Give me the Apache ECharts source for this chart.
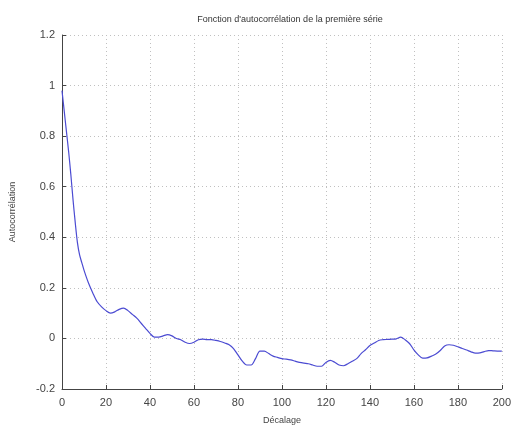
<!DOCTYPE html>
<html>
<head>
<meta charset="utf-8">
<script src="https://cdn.jsdelivr.net/npm/echarts@6/dist/echarts.min.js"></script>
<style>html,body{margin:0;padding:0;background:#fff;}#c{width:514px;height:430px;}</style>
</head>
<body>
<div id="c"></div>
<script>
const titleText = "Fonction d'autocorrélation de la première série";
const xName = "Décalage";
const yName = "Autocorrélation";
const lags = [0,1,2,3,4,5,6,7,8,9,10,12,14,16,18,20,22,24,26,28,30,32,34,36,38,40,42,44,46,48,50,52,54,56,58,60,62,64,66,68,70,72,74,76,78,80,82,84,86,88,90,92,94,96,98,100,102,104,106,108,110,112,114,116,118,120,122,124,126,128,130,132,134,136,138,140,142,144,146,148,150,152,154,156,158,160,162,164,166,168,170,172,174,176,178,180,182,184,186,188,190,192,194,196,198,200];
const acf = [0.98,0.90,0.82,0.74,0.65,0.55,0.46,0.38,0.33,0.30,0.27,0.22,0.18,0.145,0.125,0.11,0.10,0.105,0.115,0.12,0.11,0.095,0.08,0.06,0.04,0.02,0.005,0.005,0.01,0.015,0.01,0.0,-0.005,-0.015,-0.02,-0.015,-0.005,-0.003,-0.005,-0.005,-0.008,-0.012,-0.018,-0.025,-0.04,-0.065,-0.09,-0.105,-0.105,-0.08,-0.05,-0.05,-0.06,-0.07,-0.075,-0.08,-0.082,-0.085,-0.09,-0.095,-0.098,-0.1,-0.105,-0.11,-0.11,-0.095,-0.087,-0.094,-0.105,-0.108,-0.1,-0.09,-0.08,-0.06,-0.045,-0.028,-0.018,-0.008,-0.005,-0.004,-0.003,-0.002,0.005,-0.005,-0.02,-0.045,-0.065,-0.078,-0.077,-0.07,-0.062,-0.048,-0.03,-0.025,-0.027,-0.033,-0.04,-0.046,-0.053,-0.058,-0.057,-0.052,-0.048,-0.049,-0.05,-0.05];
const xMin = 0, xMax = 200, xStep = 20;
const yMin = -0.2, yMax = 1.2, yStep = 0.2;

const chart = echarts.init(document.getElementById('c'), null, {renderer: 'canvas'});
const font = 'Liberation Sans, Arial, sans-serif';
const axisCommon = {
  axisLine: {show: true, onZero: false, lineStyle: {color: '#444', width: 1}},
  axisTick: {show: true, inside: true, length: 4, lineStyle: {color: '#444'}},
  splitLine: {show: true, lineStyle: {color: '#c0c0c0', type: [1, 3], width: 1}},
  axisLabel: {color: '#444', fontSize: 11, fontFamily: font}
};
chart.setOption({
  animation: false,
  backgroundColor: '#fff',
  title: {text: titleText, left: 285, top: 10, textAlign: 'center',
    textStyle: {fontSize: 9, fontWeight: 'normal', color: '#333', fontFamily: font}},
  grid: {left: 62, right: 7, top: 35, bottom: 35},
  xAxis: Object.assign({}, axisCommon, {
    type: 'value', min: xMin, max: xMax, interval: xStep,
    name: xName, nameLocation: 'middle', nameGap: 27,
    nameTextStyle: {fontSize: 9, color: '#444', fontFamily: font},
    axisLabel: Object.assign({}, axisCommon.axisLabel, {margin: 8})
  }),
  yAxis: Object.assign({}, axisCommon, {
    type: 'value', min: yMin, max: yMax, interval: yStep,
    name: yName, nameLocation: 'middle', nameGap: 45, nameRotate: 90,
    nameTextStyle: {fontSize: 9, color: '#444', fontFamily: font},
    axisLabel: Object.assign({}, axisCommon.axisLabel, {margin: 7,
      formatter: v => String(Math.round(v * 10) / 10)})
  }),
  series: [{
    type: 'line', showSymbol: false, smooth: 0.3,
    lineStyle: {color: '#4b4bd2', width: 1.2},
    data: lags.map((l, i) => [l, acf[i]])
  }]
});
</script>
</body>
</html>
